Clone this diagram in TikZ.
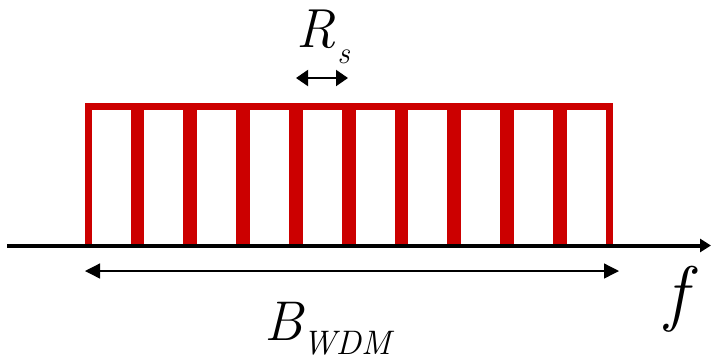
\documentclass[tikz,border=0pt]{standalone}
\usepackage{fontspec}
\usetikzlibrary{arrows.meta}
\definecolor{chred}{RGB}{204,0,0}
\begin{document}
\begin{tikzpicture}[x=1pt, y=-1pt,
    chan/.style={draw=chred, line width=7pt, line join=miter},
    lbl/.style={inner sep=0pt, anchor=base west, font=\itshape}]
\useasboundingbox (0,0) rectangle (711,360);
% 信道 (10 个)
\foreach \i in {0,...,9}
  \draw[chan] ({88+52.8*\i},245) -- ({88+52.8*\i},106) -- ({134+52.8*\i},106) -- ({134+52.8*\i},245);

% 频率轴
\coordinate (o) at (7,245.5);
\coordinate (fend) at (711,245.5);
\draw[-{Triangle[length=11pt,width=13pt]}, line width=4pt] (o) -- (fend);
\node[lbl] (f) at (665,317) {\fontsize{73}{73}\selectfont f};

% 符号速率
\coordinate (ra) at (296,78);
\coordinate (rb) at (348,78);
\draw[{Triangle[length=12pt,width=16pt]}-{Triangle[length=12pt,width=16pt]}, line width=2pt] (ra) -- (rb);
\node[lbl] (rs) at (296,47) {\fontsize{55}{55}\selectfont R\kern2pt\raisebox{-16pt}{\fontsize{31}{31}\selectfont s}};

% 总带宽
\coordinate (bl) at (85,271);
\coordinate (br) at (619,271);
\draw[{Triangle[length=15pt,width=15pt]}-{Triangle[length=15pt,width=15pt]}, line width=1.3pt] (bl) -- (br);
\node[lbl] (bw) at (264,340) {\fontsize{56}{56}\selectfont B\kern0pt\raisebox{-14pt}{\fontsize{34}{34}\selectfont WDM}};
\end{tikzpicture}
\end{document}
